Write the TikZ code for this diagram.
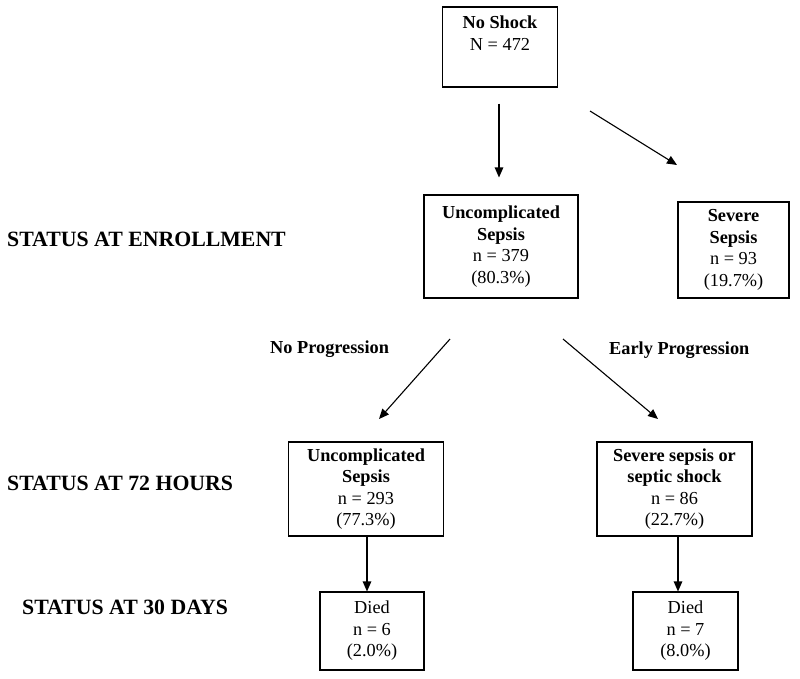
\documentclass[tikz,border=0pt]{standalone}
\usepackage{fontspec}
\setmainfont{Liberation Serif}
\usetikzlibrary{arrows.meta}
\tikzset{
  box/.style={draw, line width=1.1pt, align=center, inner sep=0pt,
    font=\fontsize{18.3}{21.5}\selectfont},
  arr/.style={line width=1.1pt, -{Triangle[length=10pt,width=8.5pt]}},
  status/.style={anchor=base west, inner sep=0pt, font=\fontsize{21.8}{24}\selectfont\bfseries},
  lab/.style={anchor=base west, inner sep=0pt, font=\fontsize{18.3}{21}\selectfont\bfseries}
}
\begin{document}
\begin{tikzpicture}[x=1pt,y=-1pt]
\path[use as bounding box] (0,0) rectangle (800,678);
% boxes
\node[box, minimum width=115pt, minimum height=80pt] (ns) at (500,47)
  {\textbf{No Shock}\\N = 472\\\strut};
\node[box, minimum width=154pt, minimum height=103pt] (us) at (501,246.5)
  {\textbf{Uncomplicated}\\\textbf{Sepsis}\\n = 379\\(80.3\%)};
\node[box, minimum width=111pt, minimum height=96pt] (ss) at (733.5,250)
  {\textbf{Severe}\\\textbf{Sepsis}\\n = 93\\(19.7\%)};
\node[box, minimum width=155pt, minimum height=94pt] (bl) at (366,489)
  {\textbf{Uncomplicated}\\\textbf{Sepsis}\\n = 293\\(77.3\%)};
\node[box, minimum width=155pt, minimum height=94pt] (br) at (674.5,489)
  {\textbf{Severe sepsis or}\\\textbf{septic shock}\\n = 86\\(22.7\%)};
\node[box, minimum width=104pt, minimum height=78pt] (dl) at (372,631)
  {Died\\n = 6\\(2.0\%)};
\node[box, minimum width=105pt, minimum height=78pt] (dr) at (685.5,631)
  {Died\\n = 7\\(8.0\%)};
% labels
\node[status] (s1) at (7,246) {STATUS AT ENROLLMENT};
\node[status] (s2) at (7,490) {STATUS AT 72 HOURS};
\node[status] (s3) at (22,614) {STATUS AT 30 DAYS};
\node[lab] (np) at (270,353) {No Progression};
\node[lab] (ep) at (609,354) {Early Progression};
% free arrow ends
\coordinate (a1s) at (590,111);
\coordinate (a1e) at (677,165);
\coordinate (a2s) at (450,339);
\coordinate (a2e) at (379,419);
\coordinate (a3s) at (563,339);
\coordinate (a3e) at (658,419);
% connectors
\draw[arr, shorten <=16pt, shorten >=17pt] ([xshift=-1pt]ns.south) -- ([xshift=-1pt]ns.south |- us.north);
\draw[arr] (a1s) -- (a1e);
\draw[arr] (a2s) -- (a2e);
\draw[arr] (a3s) -- (a3e);
\draw[arr] ([xshift=1pt]bl.south) -- ([xshift=1pt]bl.south |- dl.north);
\draw[arr] ([xshift=3.5pt]br.south) -- ([xshift=3.5pt]br.south |- dr.north);
\end{tikzpicture}
\end{document}
